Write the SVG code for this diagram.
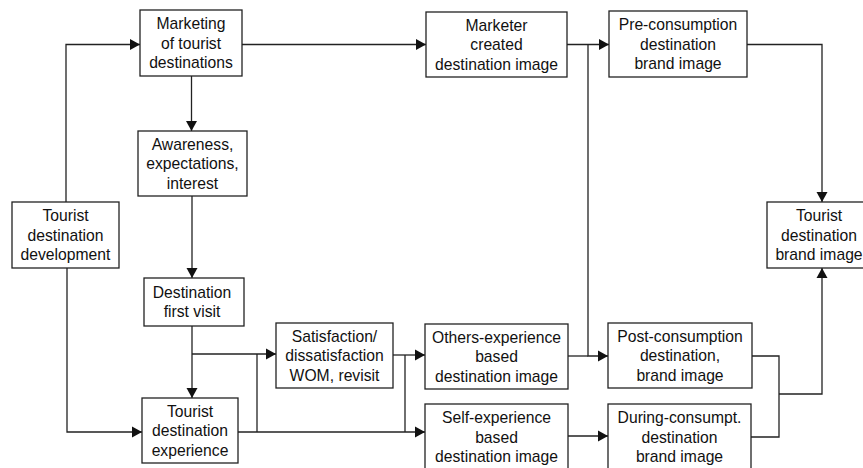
<svg xmlns="http://www.w3.org/2000/svg" width="863" height="468" viewBox="0 0 863 468">
<style>
.box{fill:#fff;stroke:#222;stroke-width:1.3}
.t{font-family:"Liberation Sans",Arial,Helvetica,sans-serif;font-size:15.7px;fill:#111;text-anchor:middle}
.c{fill:none;stroke:#222;stroke-width:1.3}
.a{marker-end:url(#ah)}
</style>
<defs>
<marker id="ah" markerUnits="userSpaceOnUse" markerWidth="11" markerHeight="12" refX="10" refY="6" orient="auto">
<path d="M0,0.5 L10,6 L0,11.5 z" fill="#111"/>
</marker>
</defs>
<rect width="863" height="468" fill="#fff"/>
<g id="connectors">
<path class="c a" d="M66,202 V44.5 H140"/>
<path class="c a" d="M67,268 V432 H142"/>
<path class="c a" d="M242,44.5 H426"/>
<path class="c a" d="M191.5,76 V131"/>
<path class="c a" d="M192,196 V278"/>
<path class="c a" d="M192,326 V398"/>
<path class="c a" d="M192,354 H276"/>
<path class="c a" d="M238,432 H425"/>
<path class="c" d="M257,354 V432"/>
<path class="c a" d="M393,355 H425"/>
<path class="c" d="M405,355 V432"/>
<path class="c a" d="M567,44.5 H609"/>
<path class="c a" d="M588,44.5 V356 H608"/>
<path class="c" d="M568,356 H588"/>
<path class="c a" d="M568,436 H608"/>
<path class="c a" d="M747,44.5 H822 V202"/>
<path class="c" d="M752,356 H779 V437 H751"/>
<path class="c a" d="M779,394 H822 V268"/>
</g>
<g id="n-marketing">
<rect class="box" x="140" y="10" width="102" height="66"/>
<text class="t"><tspan x="191" y="29">Marketing</tspan><tspan x="191" y="48.5">of tourist</tspan><tspan x="191" y="68">destinations</tspan></text>
</g>
<g id="n-awareness">
<rect class="box" x="138" y="131" width="109" height="65"/>
<text class="t"><tspan x="192.5" y="149.5">Awareness,</tspan><tspan x="192.5" y="169">expectations,</tspan><tspan x="192.5" y="188.5">interest</tspan></text>
</g>
<g id="n-development">
<rect class="box" x="12" y="202" width="107" height="66"/>
<text class="t"><tspan x="65.5" y="221">Tourist</tspan><tspan x="65.5" y="240.5">destination</tspan><tspan x="65.5" y="260">development</tspan></text>
</g>
<g id="n-firstvisit">
<rect class="box" x="144" y="278" width="100" height="48"/>
<text class="t"><tspan x="192" y="297.8">Destination</tspan><tspan x="192" y="317.3">first visit</tspan></text>
</g>
<g id="n-experience">
<rect class="box" x="142" y="398" width="96" height="65"/>
<text class="t"><tspan x="190" y="416.5">Tourist</tspan><tspan x="190" y="436">destination</tspan><tspan x="190" y="455.5">experience</tspan></text>
</g>
<g id="n-satisfaction">
<rect class="box" x="276" y="323" width="117" height="65"/>
<text class="t"><tspan x="334.5" y="341.5">Satisfaction/</tspan><tspan x="334.5" y="361">dissatisfaction</tspan><tspan x="334.5" y="380.5">WOM, revisit</tspan></text>
</g>
<g id="n-marketer">
<rect class="box" x="426" y="12" width="141" height="65"/>
<text class="t"><tspan x="496.5" y="30.5">Marketer</tspan><tspan x="496.5" y="50">created</tspan><tspan x="496.5" y="69.5">destination image</tspan></text>
</g>
<g id="n-others">
<rect class="box" x="425" y="324" width="143" height="65"/>
<text class="t"><tspan x="496.5" y="342.5">Others-experience</tspan><tspan x="496.5" y="362">based</tspan><tspan x="496.5" y="381.5">destination image</tspan></text>
</g>
<g id="n-self">
<rect class="box" x="425" y="404" width="143" height="66"/>
<text class="t"><tspan x="496.5" y="423">Self-experience</tspan><tspan x="496.5" y="442.5">based</tspan><tspan x="496.5" y="462">destination image</tspan></text>
</g>
<g id="n-pre">
<rect class="box" x="609" y="11" width="138" height="66"/>
<text class="t"><tspan x="678" y="30">Pre-consumption</tspan><tspan x="678" y="49.5">destination</tspan><tspan x="678" y="69">brand image</tspan></text>
</g>
<g id="n-post">
<rect class="box" x="608" y="323" width="144" height="65"/>
<text class="t"><tspan x="680" y="341.5">Post-consumption</tspan><tspan x="680" y="361">destination,</tspan><tspan x="680" y="380.5">brand image</tspan></text>
</g>
<g id="n-during">
<rect class="box" x="608" y="404" width="143" height="66"/>
<text class="t"><tspan x="679.5" y="423">During-consumpt.</tspan><tspan x="679.5" y="442.5">destination</tspan><tspan x="679.5" y="462">brand image</tspan></text>
</g>
<g id="n-brand">
<rect class="box" x="767" y="202" width="104" height="66"/>
<text class="t"><tspan x="819" y="221">Tourist</tspan><tspan x="819" y="240.5">destination</tspan><tspan x="819" y="260">brand image</tspan></text>
</g>
</svg>
